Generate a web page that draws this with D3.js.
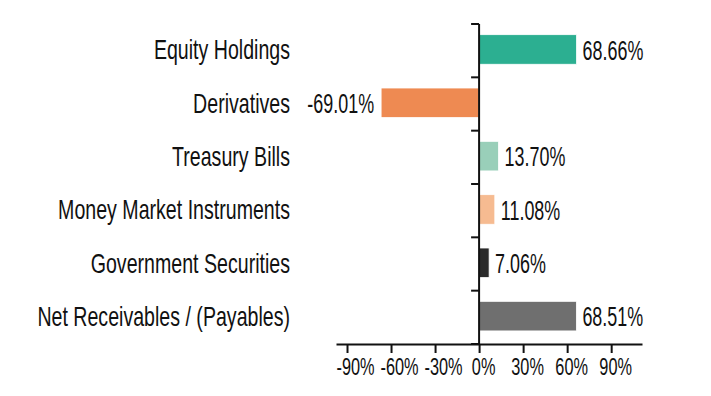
<!DOCTYPE html>
<html>
<head>
<meta charset="utf-8">
<script src="https://cdn.jsdelivr.net/npm/d3@7"></script>
<style>
  body { margin: 0; background: #fff; }
  svg text { font-family: "Liberation Sans", Arial, sans-serif; fill: #111; }
</style>
</head>
<body>
<div id="chart"></div>
<script>
const categories = ["Equity Holdings", "Derivatives", "Treasury Bills", "Money Market Instruments", "Government Securities", "Net Receivables / (Payables)"];
const values = [68.66, -69.01, 13.70, 11.08, 7.06, 68.51];
const colors = ["#2caf91", "#ee8a52", "#99cfb9", "#f6bb91", "#2a2a2a", "#6f6f6f"];
const tickValues = [-90, -60, -30, 0, 30, 60, 90];

const width = 711, height = 396;
const margin = { top: 24, right: 69, bottom: 52, left: 336 };

// narrow face: the plain font squeezed sideways
const squeeze = { cat: 0.70, val: 0.64, tick: 0.71 };

const svg = d3.select("#chart").append("svg")
  .attr("width", width)
  .attr("height", height);

const x = d3.scaleLinear()
  .domain([-97.5, 111])
  .range([margin.left, width - margin.right]);

// bars in the original run a little short of the tick grid
const xBar = d3.scaleLinear()
  .domain([-100, 100])
  .range([x(0) - 142, x(0) + 142]);

const y = d3.scaleBand()
  .domain(categories)
  .range([margin.top, height - margin.bottom])
  .paddingInner(0.445)
  .paddingOuter(0.2225);

// bars
svg.selectAll(".bar")
  .data(categories)
  .enter()
  .append("rect")
  .attr("class", "bar")
  .attr("x", (d, i) => xBar(Math.min(0, values[i])))
  .attr("y", d => y(d) - 1.2)
  .attr("width", (d, i) => Math.abs(xBar(values[i]) - xBar(0)))
  .attr("height", y.bandwidth())
  .attr("fill", (d, i) => colors[i])
  .attr("stroke", "#fff")
  .attr("stroke-width", 0.8);

// x axis
const xAxis = svg.append("g")
  .attr("transform", `translate(0,${height - margin.bottom})`)
  .call(d3.axisBottom(x).tickValues(tickValues).tickSize(9).tickSizeOuter(0).tickFormat(d => d + "%"));
xAxis.select(".domain").attr("stroke", "#111").attr("stroke-width", 2);
xAxis.selectAll(".tick line").attr("stroke", "#111").attr("stroke-width", 2);
xAxis.selectAll(".tick text").remove();
xAxis.selectAll(".tick")
  .append("text")
  .attr("transform", d => `translate(${d < 0 ? 8 : 4},30.5) scale(${squeeze.tick},1)`)
  .attr("text-anchor", "middle")
  .attr("font-size", 23)
  .text(d => d + "%");

// y axis at zero
const yAxis = svg.append("g")
  .attr("transform", `translate(${x(0)},0)`);
yAxis.append("line")
  .attr("x1", 0).attr("x2", 0)
  .attr("y1", margin.top).attr("y2", height - margin.bottom)
  .attr("stroke", "#111").attr("stroke-width", 2);
const bounds = d3.range(categories.length + 1).map(i => margin.top + i * y.step());
yAxis.selectAll(".ytick")
  .data(bounds)
  .enter()
  .append("line")
  .attr("x1", -8).attr("x2", 0)
  .attr("y1", d => d).attr("y2", d => d)
  .attr("stroke", "#111").attr("stroke-width", 2);

// category labels
svg.selectAll(".cat")
  .data(categories)
  .enter()
  .append("text")
  .attr("transform", d => `translate(290,${y(d) + y.bandwidth() / 2 + 8.5}) scale(${squeeze.cat},1)`)
  .attr("text-anchor", "end")
  .attr("font-size", 28)
  .text(d => d);

// value labels
svg.selectAll(".val")
  .data(categories)
  .enter()
  .append("text")
  .attr("transform", (d, i) => {
    const tx = values[i] < 0 ? xBar(values[i]) - 7 : xBar(values[i]) + 6;
    return `translate(${tx},${y(d) + y.bandwidth() / 2 + 9}) scale(${squeeze.val},1)`;
  })
  .attr("text-anchor", (d, i) => values[i] < 0 ? "end" : "start")
  .attr("font-size", 28)
  .text((d, i) => values[i].toFixed(2) + "%");
</script>
</body>
</html>
